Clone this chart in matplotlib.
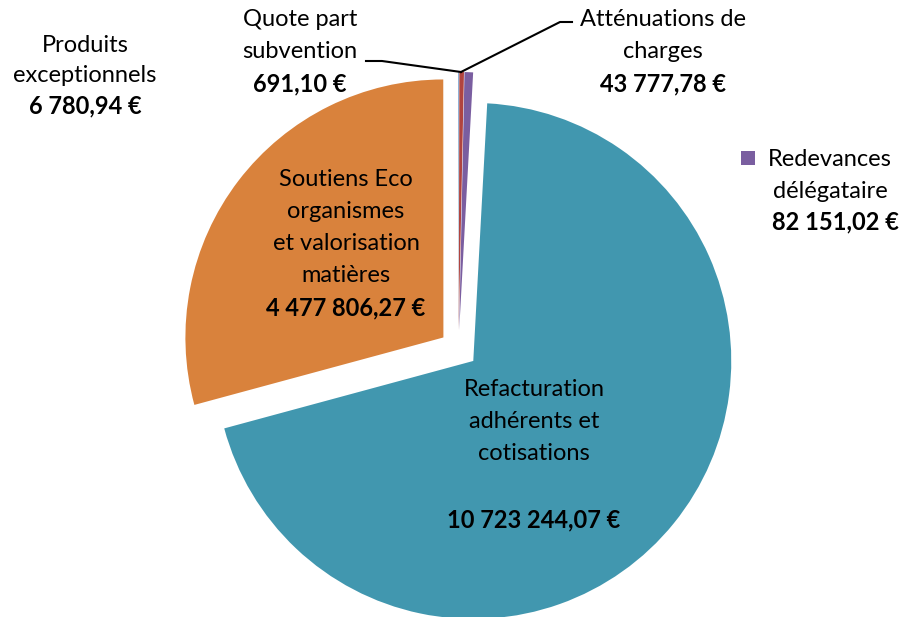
import matplotlib.pyplot as plt
import numpy as np

# recettes par poste (euros)
labels = ["Refacturation\nadhérents et\ncotisations",
          "Soutiens Eco\norganismes\net valorisation\nmatières",
          "Produits\nexceptionnels",
          "Quote part\nsubvention",
          "Atténuations de\ncharges",
          "Redevances\ndélégataire"]
values = [10723244.07, 4477806.27, 6780.94, 691.10, 43777.78, 82151.02]
value_labels = ["10 723 244,07 €", "4 477 806,27 €", "6 780,94 €",
                "691,10 €", "43 777,78 €", "82 151,02 €"]
colors = ["#4197AF", "#D9823C", "#4F81BD", "#9BBB59", "#B0443F", "#7A5EA0"]

W, H = 902, 617
plt.rcParams['font.family'] = ['Lato', 'DejaVu Sans']
fig = plt.figure(figsize=(W / 100, H / 100), dpi=100, facecolor='white')
ax = fig.add_axes([0, 0, 1, 1])

def Y(y):
    # pixel row (from top) -> data y
    return H - y

R = 258
cx, cy = 458.5, 349
# explode is in data units here (radius is in pixels)
ax.pie(values, colors=colors, startangle=86.9, counterclock=False,
       center=(cx, Y(cy)), radius=R, explode=[19] * len(values),
       wedgeprops=dict(linewidth=0))

ax.set_xlim(0, W)
ax.set_ylim(0, H)
ax.set_aspect('equal')
ax.axis('off')

fs = 17

def block(x, y_top, name, step=32):
    for i, ln in enumerate(name.split("\n")):
        ax.text(x, Y(y_top + i * step), ln, ha='center', va='center', fontsize=fs)

# big slices, labels inside
block(346, 180, labels[1])
ax.text(346, Y(308), value_labels[1], ha='center', va='center', fontsize=fs, fontweight='bold')
block(534, 390, labels[0])
ax.text(534, Y(520), value_labels[0], ha='center', va='center', fontsize=fs, fontweight='bold')

# small slices, labels outside
block(85, 45, labels[2], step=30)
ax.text(85, Y(106), value_labels[2], ha='center', va='center', fontsize=fs, fontweight='bold')

block(300, 20, labels[3])
ax.text(300, Y(84), value_labels[3], ha='center', va='center', fontsize=fs, fontweight='bold')

block(663, 20, labels[4], step=31)
ax.text(663, Y(84), value_labels[4], ha='center', va='center', fontsize=fs, fontweight='bold')

# Redevances with legend marker
ax.scatter([748], [Y(158)], marker='s', s=110, color=colors[5], linewidths=0)
ax.text(830, Y(160), "Redevances", ha='center', va='center', fontsize=fs)
ax.text(830, Y(191), "délégataire", ha='center', va='center', fontsize=fs)
ax.text(835, Y(222), value_labels[5], ha='center', va='center', fontsize=fs, fontweight='bold')

# leader lines
tip = (461, 72)
ax.plot([366, 382, tip[0]], [Y(61), Y(61), Y(tip[1])], color='black', lw=1.5)
ax.plot([tip[0], 560, 572], [Y(tip[1]), Y(22), Y(22)], color='black', lw=1.5)

fig.savefig("out.png", dpi=100, facecolor='white')
